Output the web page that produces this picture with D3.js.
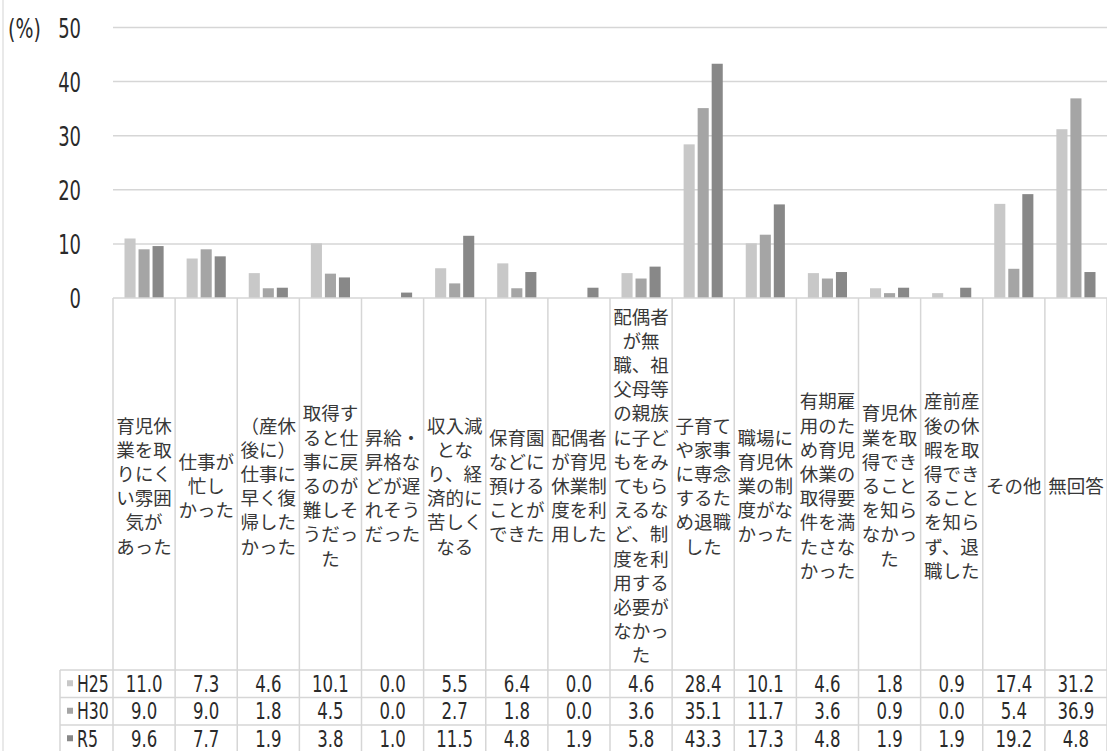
<!DOCTYPE html>
<html>
<head>
<meta charset="utf-8">
<script src="https://cdn.jsdelivr.net/npm/d3@7"></script>
<style>
  body { margin: 0; background: #fff; }
  svg { display: block; }
  .num { font-family: "DejaVu Sans Condensed", "DejaVu Sans", sans-serif; font-stretch: condensed; fill: #2a2a2a; }
  .cat { font-family: "Noto Sans CJK JP", sans-serif; fill: #383838; }
</style>
</head>
<body>
<svg width="1107" height="751"></svg>
<script>
// Categories (already wrapped the way the reference wraps them)
var categories = [
  ["育児休", "業を取", "りにく", "い雰囲", "気が", "あった"],
  ["仕事が", "忙し", "かった"],
  ["（産休", "後に）", "仕事に", "早く復", "帰した", "かった"],
  ["取得す", "ると仕", "事に戻", "るのが", "難しそ", "うだっ", "た"],
  ["昇給・", "昇格な", "どが遅", "れそう", "だった"],
  ["収入減", "とな", "り、経", "済的に", "苦しく", "なる"],
  ["保育園", "などに", "預ける", "ことが", "できた"],
  ["配偶者", "が育児", "休業制", "度を利", "用した"],
  ["配偶者", "が無", "職、祖", "父母等", "の親族", "に子ど", "もをみ", "てもら", "えるな", "ど、制", "度を利", "用する", "必要が", "なかっ", "た"],
  ["子育て", "や家事", "に専念", "するた", "め退職", "した"],
  ["職場に", "育児休", "業の制", "度がな", "かった"],
  ["有期雇", "用のた", "め育児", "休業の", "取得要", "件を満", "たさな", "かった"],
  ["育児休", "業を取", "得でき", "ること", "を知ら", "なかっ", "た"],
  ["産前産", "後の休", "暇を取", "得でき", "ること", "を知ら", "ず、退", "職した"],
  ["その他"],
  ["無回答"]
];

var seriesNames = ["H25", "H30", "R5"];
var seriesColors = ["#c8c8c8", "#a5a5a5", "#888888"];

var h25 = [11.0, 7.3, 4.6, 10.1, 0.0, 5.5, 6.4, 0.0, 4.6, 28.4, 10.1, 4.6, 1.8, 0.9, 17.4, 31.2];
var h30 = [9.0, 9.0, 1.8, 4.5, 0.0, 2.7, 1.8, 0.0, 3.6, 35.1, 11.7, 3.6, 0.9, 0.0, 5.4, 36.9];
var r5  = [9.6, 7.7, 1.9, 3.8, 1.0, 11.5, 4.8, 1.9, 5.8, 43.3, 17.3, 4.8, 1.9, 1.9, 19.2, 4.8];

var yTicks = [0, 10, 20, 30, 40, 50];

var values = [h25, h30, r5];

var svg = d3.select("svg"),
  width = +svg.attr("width"),
  height = +svg.attr("height");

var plotLeft = 113, plotRight = 1107, plotTop = 27.5, base = 298;
var tableTop = 670, rowH = 27.5, legendLeft = 60;
var gridColor = "#d6d6d6";

var idx = d3.range(categories.length);

var x = d3.scaleBand().domain(idx).range([plotLeft, plotRight]);
var xs = d3.scaleBand().domain(seriesNames)
  .range([11.5, x.bandwidth() - 11.5]).paddingInner(0.21);
var y = d3.scaleLinear().domain([0, 50]).range([base, plotTop]);

// faint frame at the far left
svg.append("line")
  .attr("x1", 3).attr("x2", 3).attr("y1", 0).attr("y2", height)
  .attr("stroke", "#e2e2e2").attr("stroke-width", 1.5);

// gridlines
svg.append("g").selectAll("line")
  .data(yTicks.filter(function(d) { return d > 0; }))
  .enter().append("line")
    .attr("x1", plotLeft).attr("x2", plotRight)
    .attr("y1", function(d) { return y(d); })
    .attr("y2", function(d) { return y(d); })
    .attr("stroke", gridColor).attr("stroke-width", 1.5);

// y tick labels
svg.append("g").selectAll("text")
  .data(yTicks)
  .enter().append("text")
    .attr("class", "num")
    .attr("text-anchor", "end")
    .attr("font-size", 27)
    .attr("transform", function(d) { return "translate(81," + (y(d) + 10) + ") scale(0.74,1)"; })
    .text(function(d) { return d; });

svg.append("text")
  .attr("class", "num")
  .attr("font-size", 27)
  .attr("transform", "translate(8," + (y(50) + 10) + ") scale(0.78,1)")
  .text("(%)");

// bars
var groups = svg.append("g").selectAll("g")
  .data(idx)
  .enter().append("g")
    .attr("transform", function(i) { return "translate(" + x(i) + ",0)"; });

groups.selectAll("rect")
  .data(function(i) {
    return seriesNames.map(function(s, k) { return { s: s, k: k, v: values[k][i] }; });
  })
  .enter().append("rect")
    .attr("x", function(d) { return xs(d.s); })
    .attr("width", xs.bandwidth())
    .attr("y", function(d) { return y(d.v); })
    .attr("height", function(d) { return base - y(d.v); })
    .attr("fill", function(d) { return seriesColors[d.k]; });

// data table lines
var table = svg.append("g").attr("stroke", gridColor).attr("stroke-width", 1.5);
table.append("line")
  .attr("x1", plotLeft).attr("x2", plotRight).attr("y1", base).attr("y2", base);
d3.range(seriesNames.length).forEach(function(r) {
  table.append("line")
    .attr("x1", legendLeft).attr("x2", plotRight)
    .attr("y1", tableTop + r * rowH).attr("y2", tableTop + r * rowH);
});
table.selectAll("line.v")
  .data(d3.range(categories.length + 1))
  .enter().append("line")
    .attr("class", "v")
    .attr("x1", function(i) { return plotLeft + i * x.step(); })
    .attr("x2", function(i) { return plotLeft + i * x.step(); })
    .attr("y1", base).attr("y2", height);
table.append("line")
  .attr("x1", legendLeft).attr("x2", legendLeft)
  .attr("y1", tableTop).attr("y2", height);

// category labels
var lineH = 24.2, catMid = 486;
var cat = svg.append("g").selectAll("text")
  .data(categories)
  .enter().append("text")
    .attr("class", "cat")
    .attr("font-size", 18.5)
    .attr("text-anchor", "middle");

cat.selectAll("tspan")
  .data(function(lines, i) {
    return lines.map(function(t, j) { return { t: t, j: j, n: lines.length, i: i }; });
  })
  .enter().append("tspan")
    .attr("x", function(d) { return x(d.i) + x.bandwidth() / 2; })
    .attr("y", function(d) { return catMid + (d.j - (d.n - 1) / 2) * lineH + 7; })
    .text(function(d) { return d.t; });

// table rows
seriesNames.forEach(function(s, k) {
  var rowMid = tableTop + k * rowH + rowH / 2;
  svg.append("rect")
    .attr("x", 67).attr("y", rowMid - 3.5)
    .attr("width", 6).attr("height", 6)
    .attr("fill", seriesColors[k]);
  svg.append("text")
    .attr("class", "num")
    .attr("font-size", 23)
    .attr("transform", "translate(77," + (rowMid + 8) + ") scale(0.76,1)")
    .text(s);
  svg.append("g").selectAll("text")
    .data(values[k])
    .enter().append("text")
      .attr("class", "num")
      .attr("font-size", 23)
      .attr("text-anchor", "middle")
      .attr("transform", function(v, i) {
        return "translate(" + (x(i) + x.bandwidth() / 2) + "," + (rowMid + 8) + ") scale(0.8,1)";
      })
      .text(function(v) { return v.toFixed(1); });
});
</script>
</body>
</html>
